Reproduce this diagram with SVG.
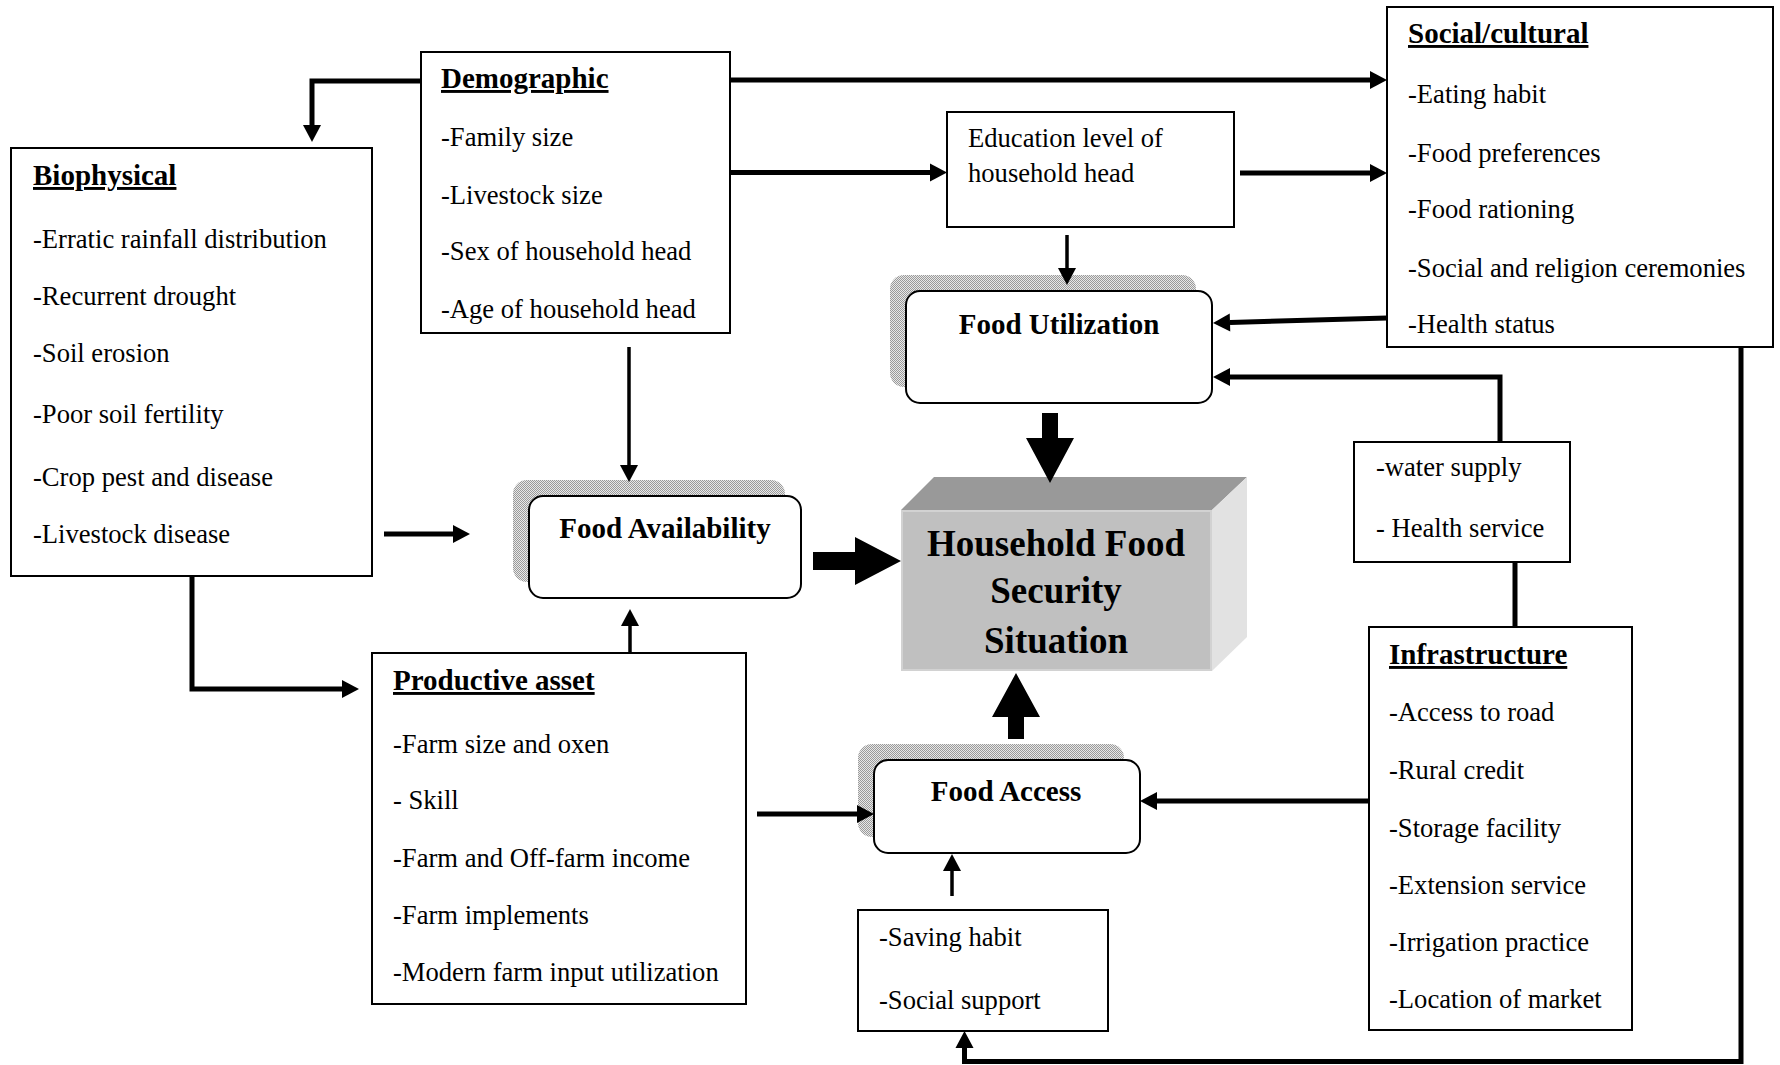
<svg xmlns="http://www.w3.org/2000/svg" width="1780" height="1065" viewBox="0 0 1780 1065">
<style>
.box{fill:#fff;stroke:#000;stroke-width:2}
.rbox{fill:#fff;stroke:#000;stroke-width:2}
.shadow{fill:url(#dots);stroke:none}
.t{font-family:"Liberation Serif","Times New Roman",serif;font-size:26.6px;fill:#000}
.h{font-family:"Liberation Serif","Times New Roman",serif;font-size:29px;font-weight:bold;fill:#000;text-decoration:underline}
.lbl{font-family:"Liberation Serif","Times New Roman",serif;font-size:29px;font-weight:bold;fill:#000;text-anchor:middle}
.big{font-family:"Liberation Serif","Times New Roman",serif;font-size:37px;font-weight:bold;fill:#000;text-anchor:middle}
.thick{fill:none;stroke:#000;stroke-width:5}
.thin{fill:none;stroke:#000;stroke-width:3.5}
.blk{fill:#000;stroke:none}
</style>
<defs>
<pattern id="dots" width="2" height="2" patternUnits="userSpaceOnUse">
<rect width="2" height="2" fill="#e8e8e8"/>
<rect width="1" height="1" fill="#9a9a9a"/>
<rect x="1" y="1" width="1" height="1" fill="#9a9a9a"/>
</pattern>
<marker id="ah" markerUnits="userSpaceOnUse" markerWidth="18" markerHeight="18" refX="0" refY="9" orient="auto" overflow="visible">
<path d="M0,0 L17,9 L0,18 z" fill="#000"/>
</marker>
</defs>
<rect width="1780" height="1065" fill="#fff"/>

<g id="biophysical">
<rect class="box" x="11" y="148" width="361" height="428"/>
<text class="h" x="33" y="185">Biophysical</text>
<text class="t" x="33" y="248">-Erratic rainfall distribution</text>
<text class="t" x="33" y="305">-Recurrent drought</text>
<text class="t" x="33" y="362">-Soil erosion</text>
<text class="t" x="33" y="423">-Poor soil fertility</text>
<text class="t" x="33" y="486">-Crop pest and disease</text>
<text class="t" x="33" y="543">-Livestock disease</text>
</g>

<g id="demographic">
<rect class="box" x="421" y="52" width="309" height="281"/>
<text class="h" x="441" y="88">Demographic</text>
<text class="t" x="441" y="146">-Family size</text>
<text class="t" x="441" y="203.5">-Livestock size</text>
<text class="t" x="441" y="260">-Sex of household head</text>
<text class="t" x="441" y="318">-Age of household head</text>
</g>

<g id="education">
<rect class="box" x="947" y="112" width="287" height="115"/>
<text class="t" x="968" y="147">Education level of</text>
<text class="t" x="968" y="182">household head</text>
</g>

<g id="social-cultural">
<rect class="box" x="1387" y="7" width="386" height="340"/>
<text class="h" x="1408" y="43">Social/cultural</text>
<text class="t" x="1408" y="103">-Eating habit</text>
<text class="t" x="1408" y="161.5">-Food preferences</text>
<text class="t" x="1408" y="218">-Food rationing</text>
<text class="t" x="1408" y="276.5">-Social and religion ceremonies</text>
<text class="t" x="1408" y="333">-Health status</text>
</g>

<g id="food-utilization">
<rect class="shadow" x="890" y="275" width="306" height="112" rx="14"/>
<rect class="rbox" x="906" y="291" width="306" height="112" rx="14"/>
<text class="lbl" x="1059" y="334">Food Utilization</text>
</g>

<g id="food-availability">
<rect class="shadow" x="513" y="480" width="272" height="102" rx="14"/>
<rect class="rbox" x="529" y="496" width="272" height="102" rx="14"/>
<text class="lbl" x="665" y="538">Food Availability</text>
</g>

<g id="household-food-security">
<polygon points="901,510 934,477 1247,477 1212,510" fill="#999999"/>
<polygon points="1212,510 1247,477 1247,637 1212,671" fill="#e2e2e2"/>
<rect x="902" y="511" width="309" height="159" fill="#c0c0c0" stroke="#d2d2d2" stroke-width="2"/>
<text class="big" x="1056" y="556">Household Food</text>
<text class="big" x="1056" y="603">Security</text>
<text class="big" x="1056" y="653">Situation</text>
</g>

<g id="water-health">
<rect class="box" x="1354" y="442" width="216" height="120"/>
<text class="t" x="1376" y="476">-water supply</text>
<text class="t" x="1376" y="537">- Health service</text>
</g>

<g id="infrastructure">
<rect class="box" x="1369" y="627" width="263" height="403"/>
<text class="h" x="1389" y="664">Infrastructure</text>
<text class="t" x="1389" y="721">-Access to road</text>
<text class="t" x="1389" y="778.5">-Rural credit</text>
<text class="t" x="1389" y="836.5">-Storage facility</text>
<text class="t" x="1389" y="893.5">-Extension service</text>
<text class="t" x="1389" y="951">-Irrigation practice</text>
<text class="t" x="1389" y="1008">-Location of market</text>
</g>

<g id="productive-asset">
<rect class="box" x="372" y="653" width="374" height="351"/>
<text class="h" x="393" y="690">Productive asset</text>
<text class="t" x="393" y="752.5">-Farm size and oxen</text>
<text class="t" x="393" y="809">- Skill</text>
<text class="t" x="393" y="866.5">-Farm and Off-farm income</text>
<text class="t" x="393" y="924">-Farm implements</text>
<text class="t" x="393" y="981">-Modern farm input utilization</text>
</g>

<g id="food-access">
<rect class="shadow" x="858" y="744" width="266" height="93" rx="14"/>
<rect class="rbox" x="874" y="760" width="266" height="93" rx="14"/>
<text class="lbl" x="1006" y="801">Food Access</text>
</g>

<g id="saving-social">
<rect class="box" x="858" y="910" width="250" height="121"/>
<text class="t" x="879" y="946">-Saving habit</text>
<text class="t" x="879" y="1009">-Social support</text>
</g>

<g id="connectors">
<path class="thick" d="M421,81 H312 V125" marker-end="url(#ah)"/>
<path class="thick" d="M730,80 H1370" marker-end="url(#ah)"/>
<path class="thick" d="M730,172.5 H930" marker-end="url(#ah)"/>
<path class="thick" d="M1240,173 H1370" marker-end="url(#ah)"/>
<path class="thin" d="M1067,235 V268" marker-end="url(#ah)"/>
<path class="thick" d="M1387,318 L1230,322.5" marker-end="url(#ah)"/>
<path class="thick" d="M1500,442 V377 H1230" marker-end="url(#ah)"/>
<path class="thick" d="M1515,562 V627"/>
<path class="thin" d="M629,347 V465" marker-end="url(#ah)"/>
<path class="thick" d="M384,534 H453" marker-end="url(#ah)"/>
<path class="thick" d="M192,576 V689 H342" marker-end="url(#ah)"/>
<path class="thin" d="M630,652 V626" marker-end="url(#ah)"/>
<path class="thick" d="M757,814 H857" marker-end="url(#ah)"/>
<path class="thick" d="M1368,801 H1157" marker-end="url(#ah)"/>
<path class="thin" d="M952,896 V871" marker-end="url(#ah)"/>
<path class="thick" d="M1741,347 V1061.5 H964.5 V1048" marker-end="url(#ah)"/>
<polygon class="blk" points="813,552 855,552 855,537 901,561 855,585 855,570 813,570"/>
<polygon class="blk" points="1042,413 1058,413 1058,438 1074,438 1050,483 1026,438 1042,438"/>
<polygon class="blk" points="1008,739 1024,739 1024,717 1040,717 1016,673 992,717 1008,717"/>
</g>
</svg>
